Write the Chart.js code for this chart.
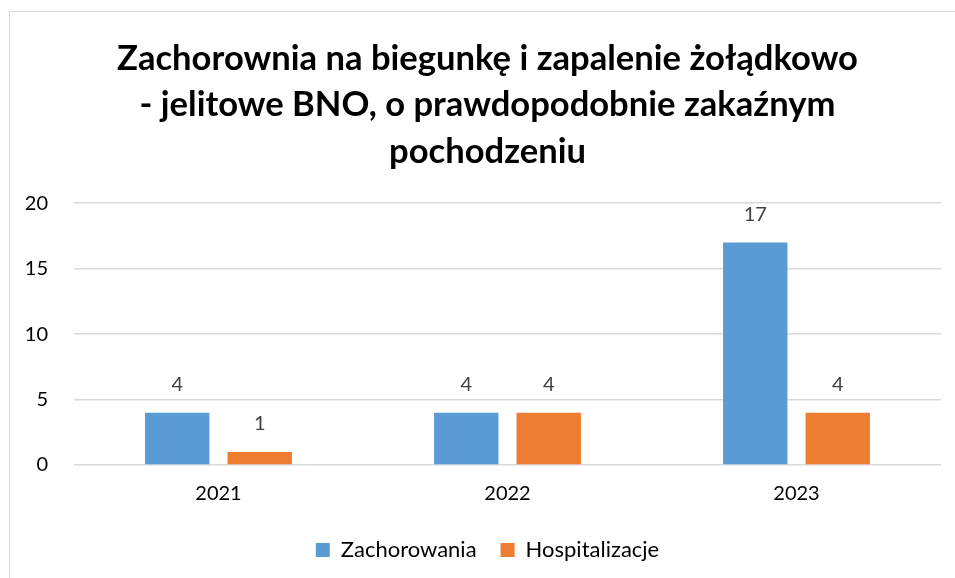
<!DOCTYPE html>
<html><head><meta charset="utf-8">
<script src="https://cdn.jsdelivr.net/npm/chart.js@4.4.1/dist/chart.umd.min.js"></script>
<style>
html,body{margin:0;padding:0;background:#fff;overflow:hidden;}
#frame{position:absolute;left:9px;top:11px;width:1000px;height:600px;border-left:1px solid #d9d9d9;border-top:1px solid #d9d9d9;}
#wrap{position:absolute;left:0;top:0;width:955px;height:578px;}
</style></head>
<body>
<div id="frame"></div>
<div id="wrap"><canvas id="c" width="955" height="578"></canvas></div>
<script>
const categories = ['2021', '2022', '2023'];
const zachorowania = [4, 4, 17];
const hospitalizacje = [1, 4, 4];
const seriesNames = ['Zachorowania', 'Hospitalizacje'];
const titleLines = ['Zachorownia na biegunkę i zapalenie żołądkowo', '- jelitowe BNO, o prawdopodobnie zakaźnym', 'pochodzeniu'];

const FONT = 'Lato, "Open Sans", sans-serif';
const valueLabels = {
  id: 'valueLabels',
  afterDatasetsDraw(chart) {
    const ctx = chart.ctx;
    ctx.save();
    ctx.font = '20px ' + FONT;
    ctx.fillStyle = '#404040';
    ctx.textAlign = 'center';
    ctx.textBaseline = 'middle';
    chart.data.datasets.forEach((ds, i) => {
      chart.getDatasetMeta(i).data.forEach((bar, j) => {
        ctx.fillText(String(ds.data[j]), bar.x, bar.y - 28);
      });
    });
    ctx.restore();
  }
};
// let the y tick labels use the space left of the scale box (avoid clipping)
const yLabelRoom = {
  id: 'yLabelRoom',
  afterLayout(chart) { chart.scales.y.left = 0; }
};

new Chart(document.getElementById('c'), {
  type: 'bar',
  data: {
    labels: categories,
    datasets: [
      {label: seriesNames[0], data: zachorowania, backgroundColor: '#5B9BD5', categoryPercentage: 0.571, barPercentage: 0.78},
      {label: seriesNames[1], data: hospitalizacje, backgroundColor: '#ED7D31', categoryPercentage: 0.571, barPercentage: 0.78}
    ]
  },
  options: {
    responsive: false,
    animation: false,
    devicePixelRatio: 1,
    layout: {padding: {left: 34, right: 14, top: 35, bottom: 7}},
    plugins: {
      title: {
        display: true,
        text: titleLines,
        color: '#000',
        font: {family: FONT, size: 34.6, weight: 'bold', lineHeight: 1.35},
        padding: {top: 0, bottom: 28}
      },
      legend: {
        position: 'bottom',
        labels: {
          boxWidth: 14, boxHeight: 14, color: '#000', padding: 24,
          font: {family: FONT, size: 22}
        }
      },
      tooltip: {enabled: false}
    },
    scales: {
      x: {
        grid: {display: false},
        border: {display: false},
        ticks: {color: '#000', font: {family: FONT, size: 20}, padding: 9}
      },
      y: {
        min: 0, max: 20,
        afterFit: (scale) => { scale.width = 40; },
        ticks: {stepSize: 5, color: '#000', font: {family: FONT, size: 20}, padding: 26},
        grid: {color: '#d9d9d9', lineWidth: 1.5, drawTicks: false},
        border: {display: false}
      }
    }
  },
  plugins: [valueLabels, yLabelRoom]
});
</script>
</body></html>
